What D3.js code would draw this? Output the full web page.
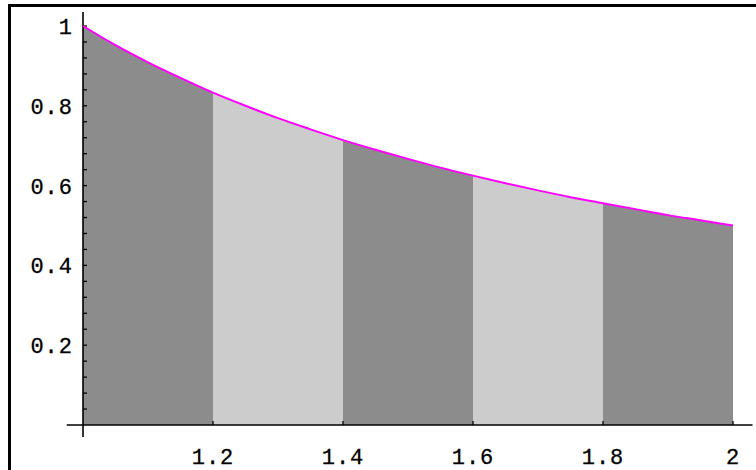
<!DOCTYPE html>
<html>
<head>
<meta charset="utf-8">
<script src="https://cdn.jsdelivr.net/npm/d3@7"></script>
<style>
  html, body { margin: 0; padding: 0; background: #fff; }
  svg text { font-family: "Liberation Mono", "DejaVu Sans Mono", monospace; font-size: 22px; fill: #000; stroke: #000; stroke-width: 0.3px; }
</style>
</head>
<body>
<svg id="chart" width="756" height="470"></svg>
<script>
const curveX = [1.00, 1.05, 1.10, 1.15, 1.20, 1.25, 1.30, 1.35, 1.40, 1.45, 1.50,
                1.55, 1.60, 1.65, 1.70, 1.75, 1.80, 1.85, 1.90, 1.95, 2.00];
const curveY = [1.000, 0.952, 0.909, 0.870, 0.833, 0.800, 0.769, 0.741, 0.714, 0.690, 0.667,
                0.645, 0.625, 0.606, 0.588, 0.571, 0.556, 0.541, 0.526, 0.513, 0.500];
const bandEdges = [1.0, 1.2, 1.4, 1.6, 1.8, 2.0];
const bandShade = ['dark', 'light', 'dark', 'light', 'dark'];
const xTicks = [1.2, 1.4, 1.6, 1.8, 2];
const xTickLabels = ['1.2', '1.4', '1.6', '1.8', '2'];
const yTicks = [0.2, 0.4, 0.6, 0.8, 1];
const yTickLabels = ['0.2', '0.4', '0.6', '0.8', '1'];

const svg = d3.select('#chart');
const x = d3.scaleLinear().domain([1, 2]).range([83, 733]);
const y = d3.scaleLinear().domain([0, 1]).range([425, 26]);

const points = curveX.map((v, i) => ({ x: v, y: curveY[i] }));
const colors = { dark: '#8c8c8c', light: '#cccccc' };

// frame
svg.append('rect').attr('x', 8).attr('y', 4).attr('width', 3).attr('height', 466).attr('fill', '#000');
svg.append('rect').attr('x', 8).attr('y', 4).attr('width', 748).attr('height', 3).attr('fill', '#000');

const area = d3.area()
  .x(d => x(d.x))
  .y0(y(0))
  .y1(d => y(d.y))
  .curve(d3.curveMonotoneX);

bandShade.forEach((s, i) => {
  const lo = bandEdges[i], hi = bandEdges[i + 1];
  const pts = points.filter(p => p.x >= lo - 1e-9 && p.x <= hi + 1e-9);
  svg.append('path')
    .datum(pts)
    .attr('d', area)
    .attr('fill', colors[s]);
});

// axes
svg.append('line')
  .attr('x1', x(0.975)).attr('x2', x(2.03))
  .attr('y1', y(0)).attr('y2', y(0))
  .attr('stroke', '#000').attr('stroke-width', 1.6);
svg.append('line')
  .attr('x1', x(1)).attr('x2', x(1))
  .attr('y1', y(-0.03)).attr('y2', y(1.035))
  .attr('stroke', '#000').attr('stroke-width', 1.6);

// y ticks every 0.04
const yMinor = d3.range(1, 26).map(i => i * 0.04);
svg.selectAll('.ytick')
  .data(yMinor)
  .enter().append('line')
  .attr('x1', x(1)).attr('x2', x(1) + 4)
  .attr('y1', d => y(d)).attr('y2', d => y(d))
  .attr('stroke', '#000').attr('stroke-width', 1.3);

svg.selectAll('.xtick')
  .data(xTicks)
  .enter().append('line')
  .attr('x1', d => x(d)).attr('x2', d => x(d))
  .attr('y1', y(0)).attr('y2', y(0) - 4)
  .attr('stroke', '#000').attr('stroke-width', 1.3);

// curve
svg.append('path')
  .datum(points)
  .attr('d', d3.line().x(d => x(d.x)).y(d => y(d.y)).curve(d3.curveMonotoneX))
  .attr('fill', 'none')
  .attr('stroke', '#ff00ff')
  .attr('stroke-width', 2);

// labels
svg.selectAll('.xlab')
  .data(xTicks)
  .enter().append('text')
  .attr('x', d => x(d))
  .attr('y', 464)
  .attr('text-anchor', 'middle')
  .style('letter-spacing', '1px')
  .text((d, i) => xTickLabels[i]);

svg.selectAll('.ylab')
  .data(yTicks)
  .enter().append('text')
  .attr('x', 73)
  .attr('y', d => y(d) + 8)
  .attr('text-anchor', 'end')
  .style('letter-spacing', '1px')
  .text((d, i) => yTickLabels[i]);
</script>
</body>
</html>
